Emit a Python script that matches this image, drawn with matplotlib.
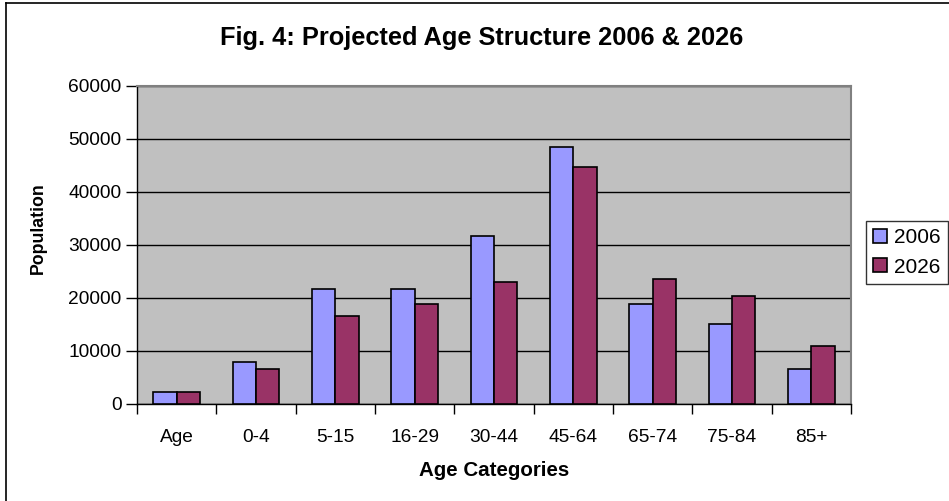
import matplotlib
matplotlib.use("Agg")
import matplotlib.pyplot as plt
import numpy as np
from matplotlib.lines import Line2D

plt.rcParams['font.family'] = ['Liberation Sans', 'DejaVu Sans']

categories = ["Age", "0-4", "5-15", "16-29", "30-44", "45-64", "65-74", "75-84", "85+"]
pop_2006 = [2100, 7800, 21650, 21650, 31600, 48500, 18750, 15100, 6500]
pop_2026 = [2100, 6500, 16450, 18750, 22950, 44600, 23450, 20350, 10900]
series_names = ["2006", "2026"]
yticks = [0, 10000, 20000, 30000, 40000, 50000, 60000]

W, H = 949, 501
fig = plt.figure(figsize=(W / 100, H / 100), dpi=100)
fig.patch.set_facecolor("white")

left, right, top, bottom = 137, 851, 86, 403.5
ax = fig.add_axes([left / W, 1 - bottom / H, (right - left) / W, (bottom - top) / H])
ax.set_facecolor("#c0c0c0")

x = np.arange(len(categories))
bw = 0.295
ax.bar(x - bw / 2, pop_2006, width=bw, color="#9999ff", edgecolor="black", linewidth=1.2, zorder=3, label=series_names[0])
ax.bar(x + bw / 2, pop_2026, width=bw, color="#993366", edgecolor="black", linewidth=1.2, zorder=3, label=series_names[1])

ax.set_xlim(-0.5, len(categories) - 0.5)
ax.set_ylim(0, 60000)
ax.set_yticks(yticks)
ax.set_yticklabels([str(v) for v in yticks], fontsize=13.8)
ax.yaxis.grid(True, color="black", linewidth=1, zorder=1)
ax.set_axisbelow(True)

ax.set_xticks(x)
ax.set_xticklabels(categories, fontsize=13.8)
ax.tick_params(axis="x", length=0, pad=18)
ax.set_xticks(np.arange(-0.5, len(categories)), minor=True)
ax.tick_params(axis="x", which="minor", length=7, width=1, color="black", direction="out")
ax.tick_params(axis="y", length=8, width=1, color="black", direction="out", pad=3)

for s in ["top", "right"]:
    ax.spines[s].set_color("#808080")
    ax.spines[s].set_linewidth(1.5)
for s in ["left", "bottom"]:
    ax.spines[s].set_color("black")
    ax.spines[s].set_linewidth(1)

ax.set_xlabel("Age Categories", fontsize=14.8, fontweight="bold", labelpad=11)
ax.set_ylabel("Population", fontsize=12.8, fontweight="bold")
ax.yaxis.set_label_coords((47 - left) / (right - left), (bottom - 228) / (bottom - top))

fig.text(482 / W, 1 - 38 / H, "Fig. 4: Projected Age Structure 2006 & 2026",
         ha="center", va="center", fontsize=18.3, fontweight="bold")

leg = fig.legend(loc="center left", bbox_to_anchor=(866 / W, 1 - 252.5 / H), fontsize=15,
                 frameon=True, fancybox=False, edgecolor="black", handlelength=0.65,
                 handleheight=0.65, handletextpad=0.35, borderpad=0.35, labelspacing=0.5,
                 borderaxespad=0)
leg.get_frame().set_linewidth(1)

fig.add_artist(Line2D([5.5 / W, 5.5 / W], [0, 1 - 3 / H], transform=fig.transFigure, color="black", linewidth=1.2))
fig.add_artist(Line2D([5.5 / W, 1], [1 - 3 / H, 1 - 3 / H], transform=fig.transFigure, color="black", linewidth=1.2))

fig.savefig("out.png", dpi=100)
